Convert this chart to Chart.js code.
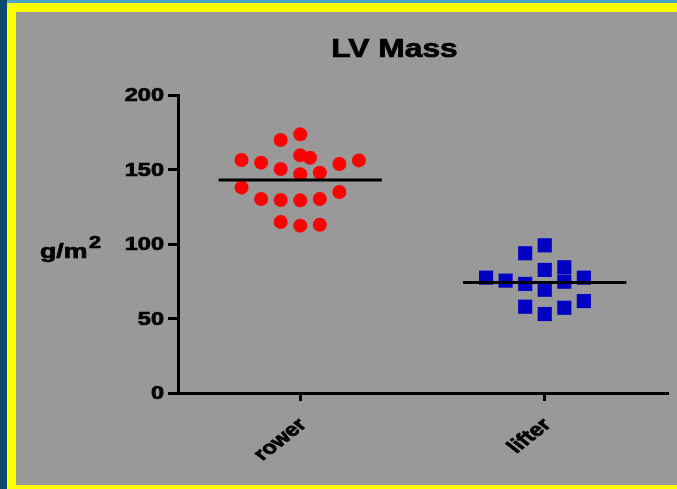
<!DOCTYPE html>
<html>
<head>
<meta charset="utf-8">
<script src="https://cdn.jsdelivr.net/npm/chart.js@4.4.1/dist/chart.umd.min.js"></script>
<style>
  html, body { margin: 0; padding: 0; }
  body { width: 677px; height: 489px; background: #999999; position: relative; overflow: hidden; }
  .strip { position: absolute; }
  #chart { position: absolute; left: 0; top: 0; }
</style>
</head>
<body>
<div class="strip" style="left:0;top:0;width:7px;height:489px;background:#0b4a6f"></div>
<div class="strip" style="left:7px;top:0;width:670px;height:3px;background:#4ba4c3"></div>
<div class="strip" style="left:7px;top:3px;width:9px;height:486px;background:#ffff00"></div>
<div class="strip" style="left:7px;top:3px;width:670px;height:9px;background:#ffff00"></div>
<div class="strip" style="left:7px;top:485px;width:670px;height:4px;background:#ffff00"></div>
<canvas id="chart" width="677" height="489"></canvas>
<script>
const categories = ["rower", "lifter"];
const yTicks = [0, 50, 100, 150, 200];

// horizontal scatter offsets (category units) and values
const rowerJitter = [-0.08, 0, -0.24, -0.16, 0, 0.04, 0.16, 0.24, -0.08, 0, 0.08,
    -0.24, 0.16, -0.16, -0.08, 0, 0.08, -0.08, 0, 0.08];
const rowerValues = [169.8, 173.6, 156.4, 154.6, 159.5, 157.9, 153.7, 156.1, 150.3, 146.8, 147.9,
    138.0, 134.9, 130.2, 129.5, 129.3, 130.2, 114.8, 112.3, 112.9];
const lifterJitter = [-0.24, -0.16, -0.08, 0, -0.08, 0, 0.08, 0.08, 0, 0.16, -0.08, 0, 0.08, 0.16];
const lifterValues = [77.4, 75.4, 93.8, 99.1, 73.2, 82.6, 84.4, 74.7, 69.3, 77.4, 57.9, 53.0, 57.2, 61.7];

const FONT = "'Liberation Sans', Arial, sans-serif";
const STRETCH = 1.27;
const MEAN_HALF = 0.334;

function mean(arr) {
    return arr.reduce((a, b) => a + b, 0) / arr.length;
}

function toPoints(index, jitter, values) {
    return values.map((v, i) => ({ x: index + 1 + jitter[i], y: v }));
}

function meanLine(index, values) {
    const m = mean(values);
    return [{ x: index + 1 - MEAN_HALF, y: m }, { x: index + 1 + MEAN_HALF, y: m }];
}

function drawText(ctx, text, x, y, font, align, baseline, rot) {
    ctx.save();
    ctx.translate(x, y);
    ctx.scale(STRETCH, 1);
    if (rot) ctx.rotate(rot);
    ctx.font = font;
    ctx.fillStyle = "#000000";
    ctx.strokeStyle = "#000000";
    ctx.lineWidth = 0.7;
    ctx.textAlign = align;
    ctx.textBaseline = baseline;
    ctx.fillText(text, 0, 0);
    ctx.strokeText(text, 0, 0);
    ctx.restore();
}

const textPlugin = {
    id: "texts",
    afterDraw(chart) {
        const ctx = chart.ctx;
        const xs = chart.scales.x;
        const ys = chart.scales.y;
        drawText(ctx, "LV Mass", 394.5, 57, "bold 25px " + FONT, "center", "alphabetic");
        yTicks.forEach((t) => {
            drawText(ctx, String(t), 164, ys.getPixelForValue(t) + 1, "bold 18.5px " + FONT, "right", "middle");
        });
        categories.forEach((c, i) => {
            const px = xs.getPixelForValue(i + 1);
            drawText(ctx, c, px + 3, ys.bottom + 29, "bold 18.5px " + FONT, "right", "middle", -Math.PI / 4);
        });
        drawText(ctx, "g/m", 40, 258, "bold 21px " + FONT, "left", "alphabetic");
        drawText(ctx, "2", 89, 247.5, "bold 17px " + FONT, "left", "alphabetic");
    },
};

new Chart(document.getElementById("chart"), {
    type: "scatter",
    data: {
        datasets: [
            {
                data: meanLine(0, rowerValues),
                type: "line",
                borderColor: "#000000",
                borderWidth: 3,
                pointRadius: 0,
                order: 0,
            },
            {
                data: meanLine(1, lifterValues),
                type: "line",
                borderColor: "#000000",
                borderWidth: 3,
                pointRadius: 0,
                order: 0,
            },
            {
                data: toPoints(0, rowerJitter, rowerValues),
                backgroundColor: "#ff0000",
                borderColor: "#ff0000",
                pointStyle: "circle",
                pointRadius: 7,
                borderWidth: 0,
                order: 1,
            },
            {
                data: toPoints(1, lifterJitter, lifterValues),
                backgroundColor: "#0000c4",
                borderColor: "#0000c4",
                pointStyle: "rect",
                pointRadius: 10,
                borderWidth: 0,
                order: 1,
            },
        ],
    },
    options: {
        responsive: false,
        animation: false,
        devicePixelRatio: 1,
        layout: { padding: { left: 0, right: 10, top: 95, bottom: 0 } },
        plugins: {
            legend: { display: false },
            tooltip: { enabled: false },
            title: { display: false },
        },
        scales: {
            x: {
                type: "linear",
                min: 0.5,
                max: 2.5,
                afterBuildTicks: (scale) => {
                    scale.ticks = categories.map((c, i) => ({ value: i + 1 }));
                },
                afterFit: (scale) => {
                    scale.height = 96;
                },
                ticks: { display: false },
                grid: {
                    drawOnChartArea: false,
                    drawTicks: true,
                    tickLength: 8,
                    lineWidth: 3,
                    color: "#000000",
                },
                border: { display: true, width: 3, color: "#000000" },
            },
            y: {
                min: 0,
                max: 200,
                afterBuildTicks: (scale) => {
                    scale.ticks = yTicks.map((v) => ({ value: v }));
                },
                afterFit: (scale) => {
                    scale.width = 178;
                },
                ticks: { display: false },
                grid: {
                    drawOnChartArea: false,
                    drawTicks: true,
                    tickLength: 10,
                    lineWidth: 3,
                    color: "#000000",
                },
                border: { display: true, width: 3, color: "#000000" },
            },
        },
    },
    plugins: [textPlugin],
});
</script>
</body>
</html>
